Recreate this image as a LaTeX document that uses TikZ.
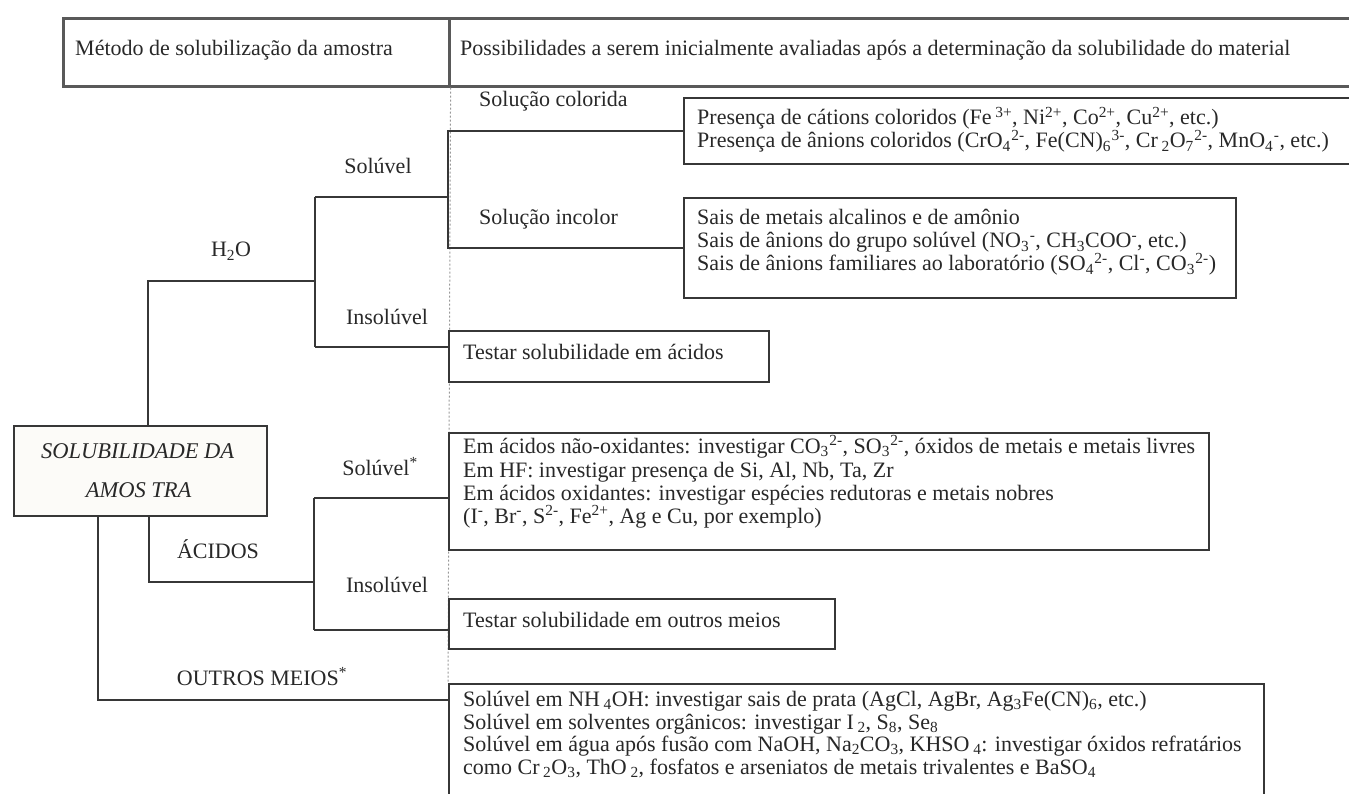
\documentclass[tikz,border=0pt]{standalone}
\usepackage{fontspec}
\setmainfont{Liberation Serif}
\newcommand\up[1]{\textsuperscript{#1}}
\newcommand\dn[1]{\textsubscript{#1}}
% subscript followed by its charge
\newcommand\ion[2]{\textsubscript{#1}\kern0.5pt\textsuperscript{#2}}
\definecolor{ink}{RGB}{40,40,40}
\definecolor{rule}{RGB}{55,55,55}
\definecolor{rootfill}{RGB}{252,251,248}
\begin{document}
\begin{tikzpicture}[x=1pt,y=-1pt,
  txt/.style={font=\fontsize{22}{23}\selectfont, text=ink, inner sep=0pt, text height=14pt, text depth=4pt},
  hdr/.style={draw=black!65, line width=2.6pt, rectangle, inner sep=0pt},
  panel/.style={draw=rule, line width=2.2pt, rectangle, inner sep=0pt, fill=white, anchor=north west},
  link/.style={draw=rule, line width=2pt},
  guide/.style={draw=black!40, line width=1pt, dash pattern=on 2pt off 2pt}]
\useasboundingbox (0,0) rectangle (1349,794);

% header row
\node[hdr, minimum width=386, minimum height=68, anchor=north west] (hl) at (62,17) {};
\node[hdr, minimum width=910, minimum height=68, anchor=north west] (hr) at (448,17) {};
\node[txt, anchor=base west] (hlt) at (75,56) {Método de solubilização da amostra};
\node[txt, anchor=base west] (hrt) at (460,56) {Possibilidades a serem inicialmente avaliadas após a determinação da solubilidade do material};

% dotted column guide
\draw[guide] (hl.south east) -- (448,683);

% result boxes
\node[panel, minimum width=680, minimum height=66] (cat) at (683,97) {};
\node[panel, minimum width=552, minimum height=100] (inc) at (683,197) {};
\node[panel, minimum width=320, minimum height=51] (tacid) at (448,330) {};
\node[panel, minimum width=760, minimum height=117] (asol) at (448,432) {};
\node[panel, minimum width=386, minimum height=50] (tout) at (448,598) {};
\node[panel, minimum width=815, minimum height=130] (omeios) at (448,683) {};

% root box
\node[draw=rule, line width=2.2pt, fill=rootfill, minimum width=253, minimum height=90,
      anchor=north west, align=center, inner sep=0pt, text=ink,
      font=\fontsize{22.5}{39}\selectfont\itshape] (root) at (13,425)
      {SOLUBILIDADE DA\hspace*{6pt}\\AMOS TRA\hspace*{4pt}};

% branch labels
\node[txt, anchor=base] (lw) at (231,257) {H\dn{2}O};
\node[txt, anchor=base] (lws) at (378,174) {Solúvel};
\node[txt, anchor=base] (lwi) at (387,324) {Insolúvel};
\node[txt, anchor=base west] (lsc) at (479,107) {Solução colorida};
\node[txt, anchor=base west] (lsi) at (479,225) {Solução incolor};
\node[txt, anchor=base] (la) at (218,558) {ÁCIDOS};
\node[txt, anchor=base] (las) at (380,475) {Solúvel\up{*}};
\node[txt, anchor=base] (lai) at (387,592) {Insolúvel};
\node[txt, anchor=base] (lo) at (262,685) {OUTROS MEIOS\up{*}};

% box texts
\node[txt, anchor=base west] (c1) at (697,125) {Presença de cátions coloridos (Fe\,\up{3+}, Ni\up{2+}, Co\up{2+}, Cu\up{2+}, etc.)};
\node[txt, anchor=base west] (c2) at (697,148) {Presença de ânions coloridos (CrO\ion{4}{2-}, Fe(CN)\ion{6}{3-}, Cr\,\dn{2}O\ion{7}{2-}, MnO\ion{4}{-}, etc.)};

\node[txt, anchor=base west] (i1) at (697,225) {Sais de metais alcalinos e de amônio};
\node[txt, anchor=base west] (i2) at (697,248) {Sais de ânions do grupo solúvel (NO\ion{3}{-}, CH\dn{3}COO\up{-}, etc.)};
\node[txt, anchor=base west] (i3) at (697,271) {Sais de ânions familiares ao laboratório (SO\ion{4}{2-}, Cl\up{-}, CO\ion{3}{2-})};

\node[txt, anchor=base west] (ta) at (463,359) {Testar solubilidade em ácidos};

\node[txt, anchor=base west] (a1) at (463,453) {Em ácidos não-oxidantes: investigar CO\ion{3}{2-}, SO\ion{3}{2-}, óxidos de metais e metais livres};
\node[txt, anchor=base west] (a2) at (463,477) {Em HF: investigar presença de Si, Al, Nb, Ta, Zr};
\node[txt, anchor=base west] (a3) at (463,500) {Em ácidos oxidantes: investigar espécies redutoras e metais nobres};
\node[txt, anchor=base west] (a4) at (463,523) {(I\up{-}, Br\up{-}, S\up{2-}, Fe\up{2+}, Ag e Cu, por exemplo)};

\node[txt, anchor=base west] (to) at (463,627) {Testar solubilidade em outros meios};

\node[txt, anchor=base west] (o1) at (463,706) {Solúvel em NH\,\dn{4}OH: investigar sais de prata (AgCl, AgBr, Ag\dn{3}Fe(CN)\dn{6}, etc.)};
\node[txt, anchor=base west] (o2) at (463,729) {Solúvel em solventes orgânicos: investigar I\,\dn{2}, S\dn{8}, Se\dn{8}};
\node[txt, anchor=base west] (o3) at (463,751) {Solúvel em água após fusão com NaOH, Na\dn{2}CO\dn{3}, KHSO\,\dn{4}: investigar óxidos refratários};
\node[txt, anchor=base west] (o4) at (463,774) {como Cr\,\dn{2}O\dn{3}, ThO\,\dn{2}, fosfatos e arseniatos de metais trivalentes e BaSO\dn{4}};

% junctions of the tree
\coordinate (jw) at (315,281);
\coordinate (jws) at (315,197);
\coordinate (jwi) at (315,347);
\coordinate (wsol) at (448,197);
\coordinate (ja) at (314,582);
\coordinate (jat) at (314,498);
\coordinate (jab) at (314,630);
\coordinate (jo) at (448,700);

% water branch
\draw[link] ([xshift=7.5pt]root.north) |- (jw);
\draw[link] (jws) -- (jwi);
\draw[link] (jws) -- (wsol);
\draw[link] (cat.west) -| (wsol) |- (inc.west);
\draw[link] (jwi) -- (jwi -| tacid.west);

% acid branch
\draw[link] ([xshift=8.5pt]root.south) |- (ja);
\draw[link] (jat) -- (jab);
\draw[link] (jat) -- (jat -| asol.west);
\draw[link] (jab) -- (jab -| tout.west);

% other media branch
\draw[link] ([xshift=-42.5pt]root.south) |- (jo);
\end{tikzpicture}
\end{document}
